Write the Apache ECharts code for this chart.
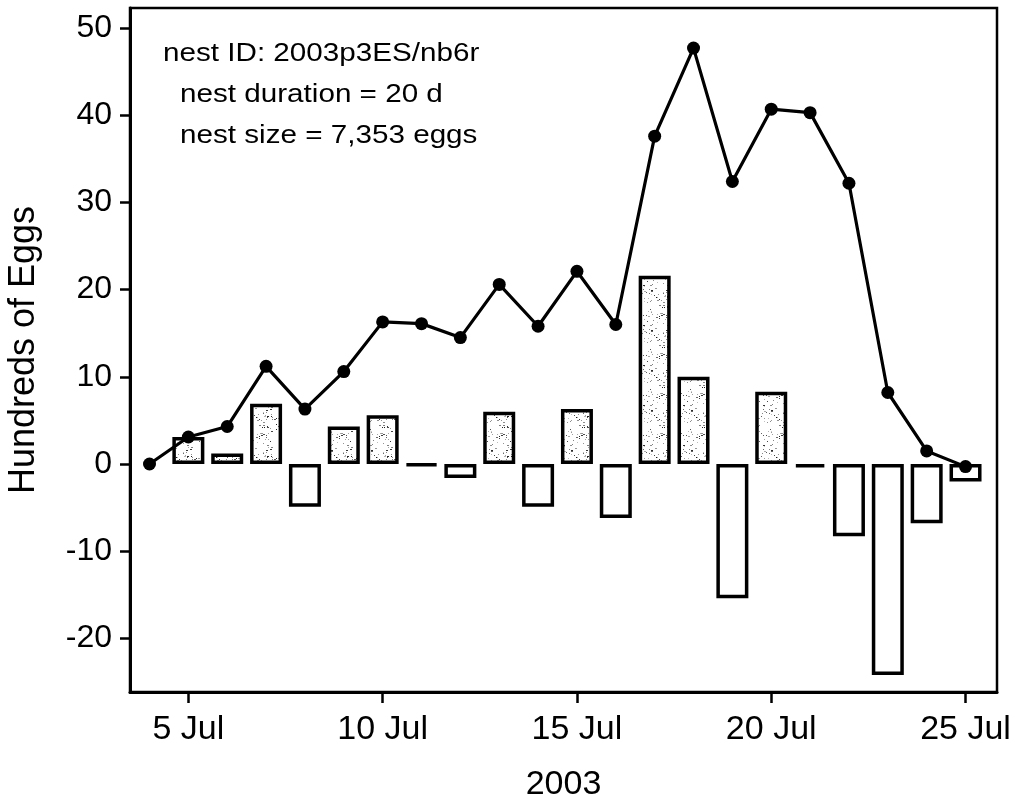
<!DOCTYPE html>
<html>
<head>
<meta charset="utf-8">
<script src="https://cdn.jsdelivr.net/npm/echarts@6/dist/echarts.min.js"></script>
<style>
  html, body { margin: 0; padding: 0; background: #fff; }
  #chart { width: 1015px; height: 799px; }
</style>
</head>
<body>
<div id="chart"></div>
<script>
// Day of July 2003
const days = [4, 5, 6, 7, 8, 9, 10, 11, 12, 13, 14, 15, 16, 17, 18, 19, 20, 21, 22, 23, 24, 25];
// Eggs present in the nest (hundreds)
const totals = [0, 3.1, 4.3, 11.2, 6.3, 10.6, 16.3, 16.1, 14.5, 20.6, 15.8, 22.1, 16.0, 37.6, 47.7, 32.4, 40.7, 40.3, 32.2, 8.2, 1.5, -0.3];
// Daily change (hundreds); the first day has no bar
const changes = [null, 3.1, 1.2, 6.9, -4.9, 4.3, 5.6, -0.2, -1.6, 6.0, -4.9, 6.3, -6.2, 21.6, 10.0, -15.4, 8.3, -0.4, -8.3, -24.2, -6.8, -2.0];
// Axis ticks
const xTicks = [5, 10, 15, 20, 25];
const yTicks = [-20, -10, 0, 10, 20, 30, 40, 50];
const noteLines = ['nest ID: 2003p3ES/nb6r', 'nest duration = 20 d', 'nest size = 7,353 eggs'];

const FONT = '"Liberation Sans", Arial, Helvetica, sans-serif';

// Light stipple texture for the gain bars (fixed, repeatable dot layout)
function makeStipple() {
  const c = document.createElement('canvas');
  c.width = 40; c.height = 40;
  const g = c.getContext('2d');
  g.fillStyle = '#ffffff';
  g.fillRect(0, 0, 40, 40);
  let s = 12345;
  const next = () => { s = (s * 1103515245 + 12345) & 0x7fffffff; return s / 0x7fffffff; };
  for (let i = 0; i < 95; i++) {
    const x = Math.floor(next() * 40), y = Math.floor(next() * 40);
    const v = Math.floor(30 + next() * 170);
    g.fillStyle = `rgb(${v},${v},${v})`;
    g.fillRect(x, y, next() < 0.3 ? 2 : 1, 1);
  }
  return c;
}
const stipple = { image: makeStipple(), repeat: 'repeat' };

const barData = [];
days.forEach((d, i) => {
  const v = changes[i];
  if (v === null) return;
  barData.push({
    value: [d, v],
    itemStyle: { color: v >= 0 ? stipple : '#ffffff' }
  });
});
const lineData = days.map((d, i) => [d, totals[i]]);

const chart = echarts.init(document.getElementById('chart'), null, { renderer: 'canvas' });
chart.setOption({
  animation: false,
  backgroundColor: '#ffffff',
  grid: {
    left: 130, right: 18, top: 8, bottom: 107,
    containLabel: false,
    outerBoundsMode: 'none',
    show: true, borderColor: '#000', borderWidth: 2.5, backgroundColor: 'transparent'
  },
  xAxis: {
    type: 'value',
    min: 3.498, max: 25.81,
    name: '2003',
    nameLocation: 'middle',
    nameGap: 76,
    nameTextStyle: { fontFamily: FONT, fontSize: 34, color: '#000' },
    axisLine: { show: true, onZero: false, lineStyle: { color: '#000', width: 3 } },
    axisTick: { show: true, length: 11, lineStyle: { color: '#000', width: 2.5 }, customValues: xTicks },
    axisLabel: {
      show: true, margin: 21, fontFamily: FONT, fontSize: 34, color: '#000',
      customValues: xTicks,
      formatter: v => Math.round(v) + ' Jul'
    },
    splitLine: { show: false }
  },
  yAxis: {
    type: 'value',
    min: -26.15, max: 52.3,
    name: 'Hundreds of Eggs',
    nameLocation: 'middle',
    nameGap: 88,
    nameTextStyle: { fontFamily: FONT, fontSize: 36, color: '#000' },
    axisLine: { show: true, onZero: false, lineStyle: { color: '#000', width: 3 } },
    axisTick: { show: true, length: 10, lineStyle: { color: '#000', width: 2.5 }, customValues: yTicks },
    axisLabel: {
      show: true, margin: 18, fontFamily: FONT, fontSize: 32, color: '#000',
      customValues: yTicks
    },
    splitLine: { show: false }
  },
  series: [
    {
      type: 'bar',
      data: barData,
      barWidth: 32,
      itemStyle: { borderColor: '#000', borderWidth: 3.5 },
      z: 2
    },
    {
      type: 'line',
      data: lineData,
      symbol: 'circle',
      symbolSize: 13,
      itemStyle: { color: '#000' },
      lineStyle: { color: '#000', width: 3.2 },
      z: 3
    }
  ],
  graphic: noteLines.map((t, i) => ({
    type: 'text',
    x: i === 0 ? 163 : 180,
    y: [54, 95, 136][i],
    scaleX: 1.14,
    style: {
      text: t,
      fontFamily: FONT,
      fontSize: 26,
      fill: '#000',
      verticalAlign: 'middle',
      align: 'left'
    }
  }))
});
</script>
</body>
</html>
